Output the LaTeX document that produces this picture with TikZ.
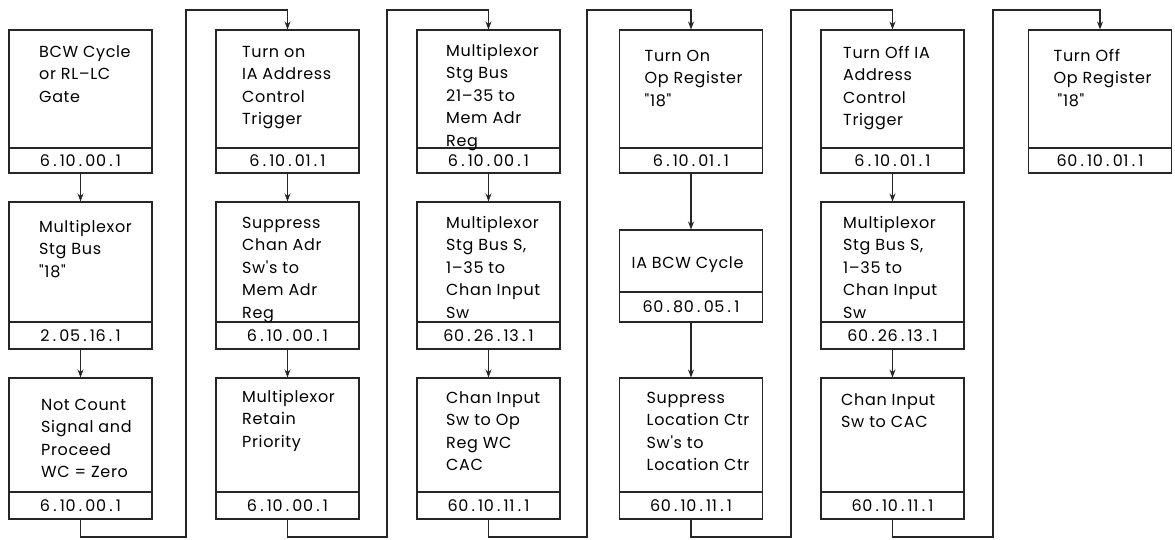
\documentclass[tikz,border=0pt]{standalone}
\usepackage{fontspec}
% plain family: no TeX input mapping, so quote marks stay straight
\newfontfamily\cellface{Poppins}[LetterSpace=4]
\usetikzlibrary{arrows.meta}

% cell text: one size and line pitch for every box
\newcommand\cellfont{\cellface\fontsize{16}{22.5}\selectfont}
% reference numbers are set with extra room round the periods
\newcommand\rnsep{\kern3.2pt}
\def\rnsplit#1.#2.#3.#4\relax{#1\rnsep.\rnsep#2\rnsep.\rnsep#3\rnsep.\rnsep#4}
\newcommand\rn[1]{\rnsplit#1\relax}

\tikzset{
  ln/.style={line width=1.1pt, draw=black!85},
  boxbody/.style={ln, draw, minimum width=143pt, inner sep=0pt},
  numbox/.style={ln, draw, minimum width=143pt, inner sep=0pt, font=\cellfont},
  txt/.style={anchor=north west, inner sep=0pt, align=left, font=\cellfont},
  flow/.style={ln, -{Stealth[length=8pt,width=6pt]}},
}

% one step: name, centre x, top, divider, bottom, text dx, first baseline dy, text, number
\newcommand\cell[9]{%
  \node[boxbody, minimum height={(#4-#3)*1pt}] (#1) at (#2,{(#3+#4)/2}) {};
  \node[numbox, minimum height={(#5-#4)*1pt}] (#1n) at (#2,{(#4+#5)/2}) {\rn{#9}};
  \node[txt] (#1t) at ({#2-71.5+#6},{#3+#7-16}) {\rule{0pt}{16pt}#8};
}

\begin{document}
\begin{tikzpicture}[x=1pt,y=-1pt]
\useasboundingbox[fill=white] (0,0) rectangle (1175,539);

% column 1
\cell{a1}{80.5}{30}{148}{173}{30}{27}{BCW Cycle\\or RL–LC\\Gate}{6.10.00.1}
\cell{a2}{80.5}{202}{322}{349}{30}{30}{Multiplexor\\Stg Bus\\"18"}{2.05.16.1}
\cell{a3}{80.5}{378}{492}{519}{32}{32}{Not Count\\Signal and\\Proceed\\WC = Zero}{6.10.00.1}

% column 2
\cell{b1}{287.5}{30}{148}{173}{26}{27}{Turn on\\IA Address\\Control\\Trigger}{6.10.01.1}
\cell{b2}{287.5}{202}{322}{349}{26}{26}{Suppress\\Chan Adr\\Sw's to\\Mem Adr\\Reg}{6.10.00.1}
\cell{b3}{287.5}{378}{492}{519}{26}{24}{Multiplexor\\Retain\\Priority}{6.10.00.1}

% column 3
\cell{c1}{488.5}{30}{148}{173}{29}{26}{Multiplexor\\Stg Bus\\21–35 to\\Mem Adr\\Reg}{6.10.00.1}
\cell{c2}{488.5}{202}{322}{349}{29}{26}{Multiplexor\\Stg Bus S,\\1–35 to\\Chan Input\\Sw}{60.26.13.1}
\cell{c3}{488.5}{378}{492}{519}{29}{25}{Chan Input\\Sw to Op\\Reg WC\\CAC}{60.10.11.1}

% column 4
\cell{d1}{691}{30}{148}{173}{25}{31}{Turn On\\Op Register\\"18"}{6.10.01.1}
\cell{d2}{691}{230}{292}{322}{12}{38}{IA BCW Cycle}{60.80.05.1}
\cell{d3}{691}{378}{492}{519}{27}{25}{Suppress\\Location Ctr\\Sw's to\\Location Ctr}{60.10.11.1}

% column 5
\cell{e1}{892.5}{30}{148}{173}{22}{28}{Turn Off IA\\Address\\Control\\Trigger}{6.10.01.1}
\cell{e2}{892.5}{202}{322}{349}{22}{26}{Multiplexor\\Stg Bus S,\\1–35 to\\Chan Input\\Sw}{60.26.13.1}
\cell{e3}{892.5}{378}{492}{519}{20}{27}{Chan Input\\Sw to CAC}{60.10.11.1}

% column 6
\cell{f1}{1100}{30}{148}{173}{25}{31}{Turn Off\\Op Register\\\hspace{4pt}"18"}{60.10.01.1}

% flow down each column
\draw[flow] (a1n) -- (a2);  \draw[flow] (a2n) -- (a3);
\draw[flow] (b1n) -- (b2);  \draw[flow] (b2n) -- (b3);
\draw[flow] (c1n) -- (c2);  \draw[flow] (c2n) -- (c3);
\draw[flow] (d1n) -- (d2);  \draw[flow] (d2n) -- (d3);
\draw[flow] (e1n) -- (e2);  \draw[flow] (e2n) -- (e3);

% return lines from the foot of one column to the head of the next
\coordinate (ub) at (186,537); \coordinate (ut) at (186,10);
\coordinate (vb) at (387,537); \coordinate (vt) at (387,10);
\coordinate (wb) at (587,537); \coordinate (wt) at (587,10);
\coordinate (xb) at (791,537); \coordinate (xt) at (791,10);
\coordinate (yb) at (993,537); \coordinate (yt) at (993,10);
\draw[flow] (a3n) |- (ub) -- (ut) -| (b1);
\draw[flow] (b3n) |- (vb) -- (vt) -| (c1);
\draw[flow] (c3n) |- (wb) -- (wt) -| (d1);
\draw[flow] (d3n) |- (xb) -- (xt) -| (e1);
\draw[flow] (e3n) |- (yb) -- (yt) -| (f1);
\end{tikzpicture}
\end{document}
